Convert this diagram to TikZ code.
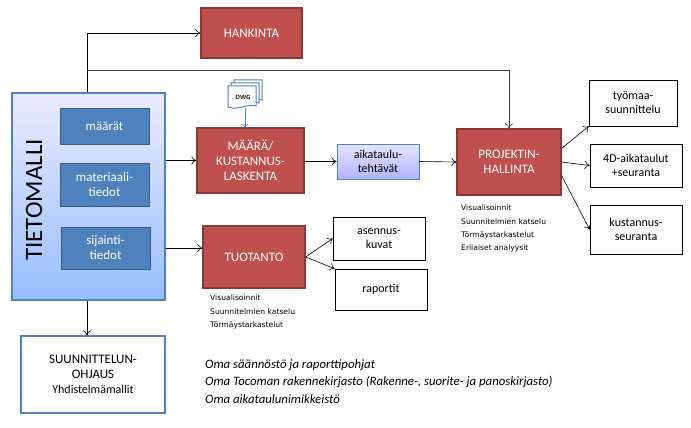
\documentclass[tikz,border=0pt]{standalone}
\usepackage{fontspec}
\setmainfont{Carlito}
\newfontfamily\smallfont{DejaVu Sans}
\usetikzlibrary{arrows.meta,shapes.multipart}
\definecolor{redbox}{HTML}{C0504D}
\definecolor{redline}{HTML}{8C3836}
\definecolor{bluebox}{HTML}{4F81BD}
\definecolor{blueline}{HTML}{385D8A}
\tikzset{
  red/.style={draw=redline,line width=1.2pt,fill=redbox,text=white,align=center,font=\fontsize{13}{15}\selectfont,inner sep=0pt},
  inner/.style={draw=blueline,line width=1pt,fill=bluebox,text=white,align=center,font=\fontsize{13}{15}\selectfont,inner sep=0pt},
  wbox/.style={draw,line width=0.6pt,fill=white,align=center,font=\fontsize{12}{14}\selectfont,inner sep=0pt},
  arr/.style={-{To[length=5pt,width=8pt]},line width=0.6pt},
  small/.style={align=left,font=\smallfont\fontsize{7.6}{13.2}\selectfont,anchor=north west,inner sep=0pt},
}
\begin{document}
\begin{tikzpicture}[x=1pt,y=-1pt]
\useasboundingbox (0,0) rectangle (691,428);
% big model box
\node[draw=bluebox,line width=1.2pt,top color=blue!8!white,bottom color=blue!30!white!85!cyan,minimum width=153pt,minimum height=207pt,inner sep=0pt] (tm) at (88.5,196.5) {};
\node[rotate=90,font=\fontsize{25}{28}\selectfont] (tmt) at (34,200) {TIETOMALLI};
\node[inner,minimum width=89pt,minimum height=36pt] (m1) at (104.5,126) {määrät};
\node[inner,minimum width=89pt,minimum height=43pt] (m2) at (104.5,184.5) {materiaali-\\tiedot};
\node[inner,minimum width=89pt,minimum height=42pt] (m3) at (105.5,248) {sijainti-\\tiedot};
% red boxes
\node[red,minimum width=101pt,minimum height=50pt] (han) at (251.5,33) {HANKINTA};
\node[red,minimum width=107pt,minimum height=65pt] (mk) at (250.5,160.5) {MÄÄRÄ/\\KUSTANNUS-\\LASKENTA};
\node[red,minimum width=104pt,minimum height=66pt] (pr) at (509,162) {PROJEKTIN-\\HALLINTA};
\node[red,minimum width=102pt,minimum height=62pt] (tu) at (254,257) {TUOTANTO};
% schedule box
\node[draw=bluebox,line width=0.8pt,top color=blue!10!white,bottom color=blue!30!white,minimum width=82pt,minimum height=35pt,align=center,inner sep=0pt,font=\fontsize{12}{14}\selectfont] (ak) at (378,161.5) {aikataulu-\\tehtävät};
% white boxes
\node[wbox,minimum width=88pt,minimum height=46pt] (w1) at (633,103) {työmaa-\\suunnittelu};
\node[wbox,minimum width=92pt,minimum height=43pt] (w2) at (636,165.5) {4D-aikataulut\\+seuranta};
\node[wbox,minimum width=92pt,minimum height=49pt] (w3) at (636,229.5) {kustannus-\\seuranta};
\node[wbox,minimum width=92pt,minimum height=43pt] (as) at (379,238.5) {asennus-\\kuvat};
\node[wbox,minimum width=92pt,minimum height=41pt] (ra) at (381,289.5) {raportit};
\node[draw=bluebox,line width=1.2pt,fill=white,minimum width=144pt,minimum height=77pt,align=center,inner sep=0pt,font=\fontsize{13}{15}\selectfont] (su) at (93,374.5) {SUUNNITTELUN-\\OHJAUS\\{\fontsize{12}{14}\selectfont Yhdistelmämallit}};
% DWG icon
\foreach \d in {6,3,0}{
  \draw[draw=bluebox,line width=1pt,fill=white] (228+\d,86-\d) -- (256+\d,86-\d) -- (256+\d,106-\d) .. controls (248+\d,103-\d) and (238+\d,111-\d) .. (228+\d,107-\d) -- cycle;
}
\node[font=\sffamily\fontsize{6}{7}\selectfont\bfseries,inner sep=0pt] (dwg) at (243,97) {DWG};
\coordinate (dwgb) at (245,108);
\draw[->,draw=bluebox,line width=0.8pt] (dwgb) -- (mk.north -| dwgb);
% texts
\node[small] (t1) at (461,205) {Visualisoinnit\\Suunnitelmien katselu\\Törmäystarkastelut\\Erilaiset analyysit};
\node[small] (t2) at (210,295) {Visualisoinnit\\Suunnitelmien katselu\\Törmäystarkastelut};
\node[align=left,anchor=north west,inner sep=0pt,font=\itshape\fontsize{12.8}{17.5}\selectfont] (t3) at (205,359) {Oma säännöstö ja raporttipohjat\\Oma Tocoman rakennekirjasto (Rakenne-, suorite- ja panoskirjasto)\\Oma aikataulunimikkeistö};
% connectors
\coordinate (top) at (87,33);
\coordinate (c1) at (87,70);
\coordinate (c2) at (509,70);
\draw[arr] (tm.north -| top) -- (top) -- (han.west);
\draw[arr,draw=black!75] (c1) -- (c2) -- (pr.north);
\draw[arr] (tm.east |- mk) -- (mk.west);
\draw[arr] (tm.east |- m3) -- (tu.west |- m3);
\draw[arr] (tm.south -| top) -- (su.north -| top);
\draw[arr] (mk.east |- ak) -- (ak.west);
\draw[arr] (ak.east) -- (pr.west);
\draw[arr] (pr.north east) ++(0,20) coordinate (p1) (p1) -- (w1.south west);
\draw[arr] (pr.east) -- (w2.west);
\draw[arr] (pr.south east) ++(0,-20) coordinate (p3) (p3) -- (w3.west);
\draw[arr] (tu.east) -- (as.west);
\draw[arr] (tu.east) -- (ra.north west);
\end{tikzpicture}
\end{document}
